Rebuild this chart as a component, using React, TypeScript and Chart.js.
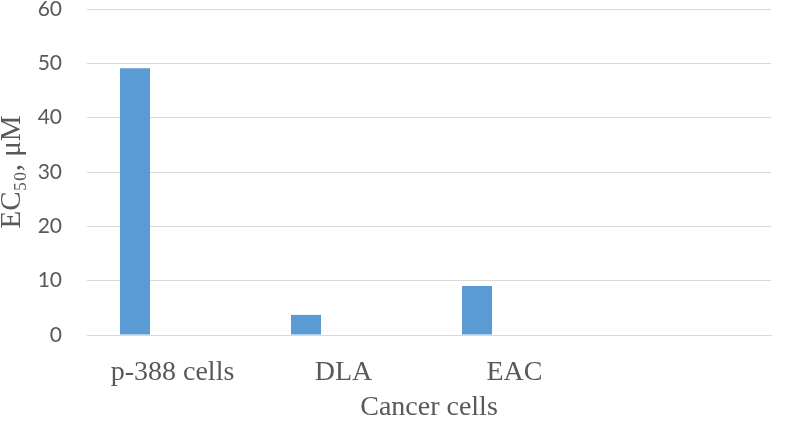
import { useEffect, useRef } from 'react';
import { Chart, registerables } from 'chart.js';

Chart.register(...registerables);

const categories = ['p-388 cells', 'DLA', 'EAC', ''];
const ec50Values: (number | null)[] = [49.1, 3.7, 9.0, null];
const emptySeries: (number | null)[] = [null, null, null, null];
const yTickValues = [0, 10, 20, 30, 40, 50, 60];
const xTitle = 'Cancer cells';
const yTitle = 'EC₅₀, μM';

export default function App() {
  const ref = useRef<HTMLCanvasElement>(null);
  useEffect(() => {
    document.body.style.margin = '0';
    const chart = new Chart(ref.current!, {
      type: 'bar',
      data: {
        labels: categories,
        datasets: [
          { label: 'EC50', data: ec50Values, backgroundColor: '#5B9BD5', barPercentage: 0.4, categoryPercentage: 0.877 },
          { label: '', data: emptySeries, backgroundColor: '#ED7D31', barPercentage: 0.4, categoryPercentage: 0.877 },
        ],
      },
      options: {
        animation: false,
        responsive: false,
        maintainAspectRatio: false,
        layout: { padding: { left: 0, right: 16, top: 9, bottom: 0 } },
        plugins: { legend: { display: false }, tooltip: { enabled: false } },
        scales: {
          x: {
            grid: { display: false, drawTicks: false },
            border: { display: true, color: '#d9d9d9', width: 1 },
            ticks: { color: '#595959', font: { family: 'Liberation Serif', size: 28, lineHeight: 1 }, padding: 24, maxRotation: 0, autoSkip: false },
            title: { display: true, text: xTitle, color: '#595959', font: { family: 'Liberation Serif', size: 28, lineHeight: 1 }, padding: { top: 0, bottom: 0 } },
            afterFit: (s: any) => { s.height = 87; s.paddingLeft = 0; s.paddingRight = 0; },
          },
          y: {
            min: 0,
            max: 60,
            afterBuildTicks: (s: any) => { s.ticks = yTickValues.map((v) => ({ value: v })); },
            ticks: { color: '#595959', font: { family: 'Lato', size: 21, lineHeight: 1 }, padding: 25 },
            grid: { color: '#d9d9d9', lineWidth: 1, drawTicks: false },
            border: { display: false },
            title: { display: true, text: yTitle, color: '#595959', font: { family: 'Liberation Serif', size: 29, lineHeight: 1 }, padding: { top: -2, bottom: 0 } },
            afterFit: (s: any) => { s.width = 87; s.paddingTop = 0; s.paddingBottom = 0; },
          },
        },
      },
    });
    return () => chart.destroy();
  }, []);
  return <canvas ref={ref} width={787} height={422} style={{ display: 'block' }} />;
}
